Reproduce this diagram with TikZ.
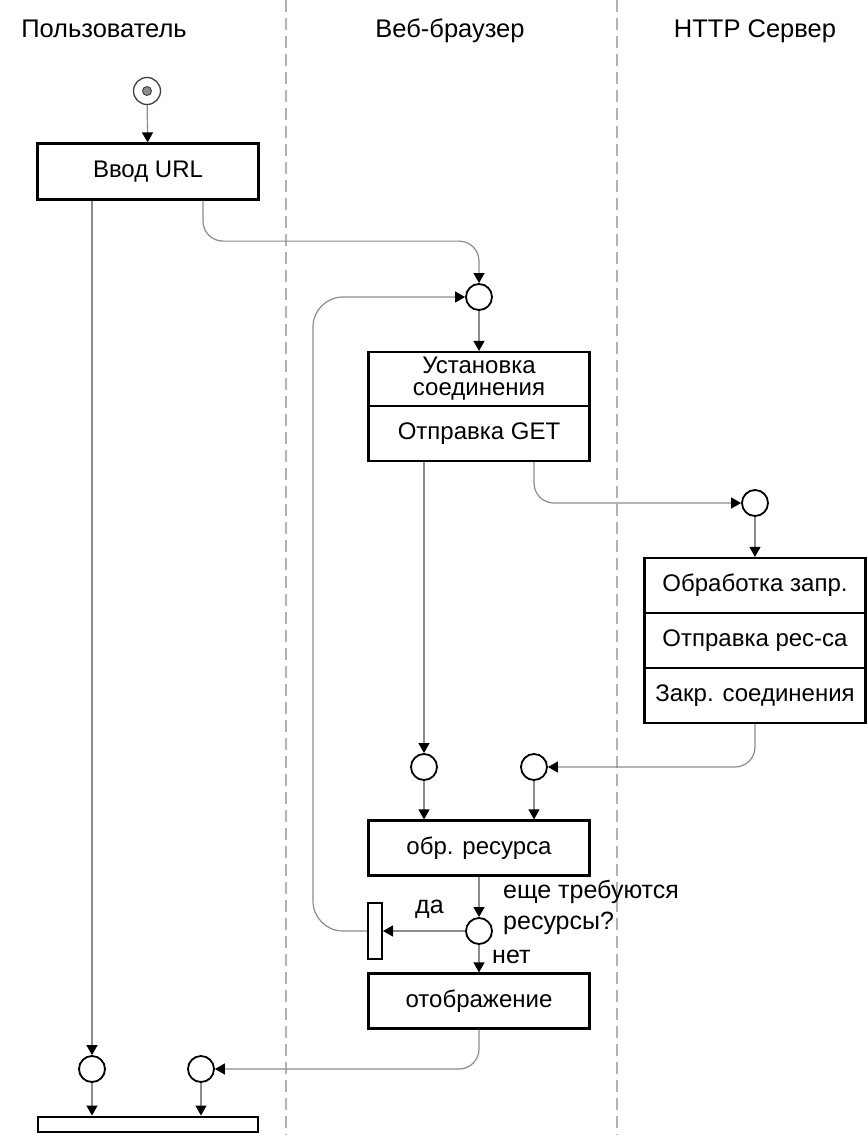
\documentclass[tikz,border=0pt]{standalone}
\usepackage{fontspec}
\setmainfont{Liberation Sans}
\usetikzlibrary{arrows.meta,calc}

\begin{document}
\begin{tikzpicture}[x=1pt,y=-1pt,
  lane/.style={draw=black!30, line width=1.4pt, dash pattern=on 12pt off 6pt},
  conn/.style={draw=black!45, line width=1.2pt, rounded corners=20pt,
    -{Triangle[length=10pt,width=11pt,color=black]}},
  act/.style={rectangle, draw=black, line width=2.2pt, fill=white,
    minimum width=221pt, minimum height=55pt, inner sep=0pt,
    font=\fontsize{24}{22}\selectfont, align=center},
  mrg/.style={circle, draw=black, line width=1.8pt, fill=white,
    minimum size=26pt, inner sep=0pt},
  initial/.style={circle, draw=black!75, line width=1.3pt, fill=white,
    minimum size=27pt, inner sep=0pt,
    path picture={\filldraw[fill=black!45, draw=black!80, line width=0.8pt]
      (path picture bounding box.center) circle (4.5pt);}},
  syncbar/.style={rectangle, draw=black, line width=2pt, fill=white, inner sep=0pt},
  header/.style={font=\fontsize{25.5}{26}\selectfont, anchor=base},
  note/.style={font=\fontsize{25}{26}\selectfont, anchor=base west, inner sep=0pt}
]
\useasboundingbox[fill=white] (0,0) rectangle (867,1135);

% swimlane separators
\draw[lane] (286,0) -- (286,1135);
\draw[lane] (617,0) -- (617,1135);

% lane titles
\node[header] (hUser) at (104,37) {Пользователь};
\node[header] (hBrowser) at (450,37) {Веб-браузер};
\node[header] (hServer) at (755,37) {HTTP Сервер};

% user lane
\node[initial] (start) at (147,91) {};
\node[act, minimum height=56pt] (url) at (148,171.5) {Ввод URL};

% browser lane
\node[mrg] (c1) at (479,297) {};
\node[act, minimum height=54pt] (est1) at (479,379) {Установка\\соединения};
\node[act] (est2) at (479,433.5) {Отправка GET};

% server lane
\node[mrg] (c2) at (755,503) {};
\node[act] (srv1) at (755,585.5) {Обработка запр.};
\node[act] (srv2) at (755,640.5) {Отправка рес-са};
\node[act] (srv3) at (755,695.5) {Закр. соединения};

% resource handling
\node[mrg] (c3) at (424,767) {};
\node[mrg] (c4) at (534,767) {};
\node[act] (res) at (479,848) {обр. ресурса};
\node[mrg] (c5) at (479,931) {};
\node[syncbar, minimum width=14pt, minimum height=56pt] (bar1) at (375,931) {};
\node[act] (disp) at (479,1001) {отображение};

% final join
\node[mrg] (c6) at (92,1069) {};
\node[mrg] (c7) at (201,1069) {};
\node[syncbar, minimum width=220pt, minimum height=15pt] (bar2) at (148,1124) {};

% guard labels
\node[note] (q1) at (503,898) {еще требуются};
\node[note] (q2) at (503,929) {ресурсы?};
\node[note] (yes) at (415,913) {да};
\node[note] (no) at (492,963) {нет};

% flows
\draw[conn] (start) -- (url);
\draw[conn] ([xshift=-56pt]url.south) -- (c6.north);
\draw[conn] ([xshift=55pt]url.south) |- ([yshift=42pt]c1.north) -- (c1.north);
\draw[conn] (c1.south) -- (c1.south |- est1.north);
\coordinate (loopx) at (313,0);
\draw[conn, rounded corners=30pt] (bar1.west) -| (loopx |- c1.west) -- (c1.west);
\draw[conn] (est2.south -| c3.north) -- (c3.north);
\draw[conn] (est2.south -| c4.north) |- (c2.west);
\draw[conn] (c2.south) -- (c2.south |- srv1.north);
\draw[conn] (srv3.south -| c2.south) |- (c4.east);
\draw[conn] (c3.south) -- (c3.south |- res.north);
\draw[conn] (c4.south) -- (c4.south |- res.north);
\draw[conn] (res.south -| c5.north) -- (c5.north);
\draw[conn] (c5.west) -- (bar1.east);
\draw[conn] (c5.south) -- (c5.south |- disp.north);
\draw[conn] (disp.south -| c5.south) |- (c7.east);
\draw[conn] (c6.south) -- (c6.south |- bar2.north);
\draw[conn] (c7.south) -- (c7.south |- bar2.north);
\end{tikzpicture}
\end{document}
